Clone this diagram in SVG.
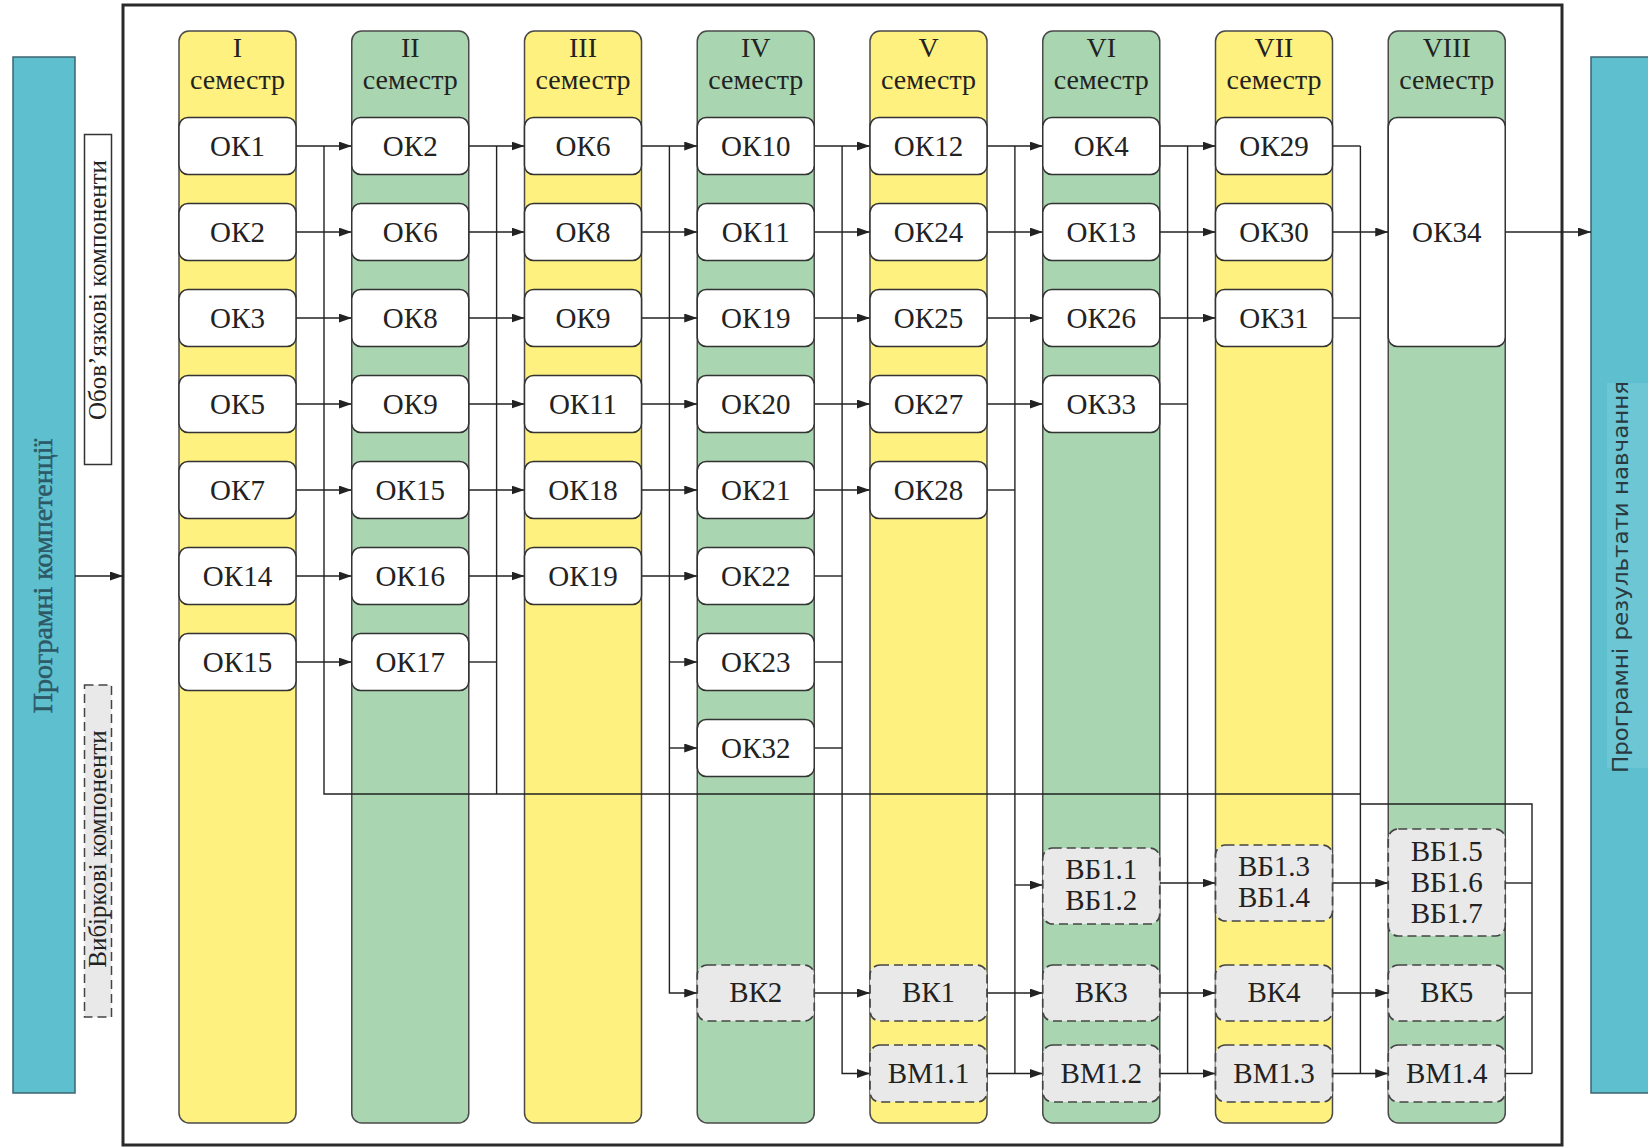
<svg xmlns="http://www.w3.org/2000/svg" width="1648" height="1147" viewBox="0 0 1648 1147">
<style>
.cy{fill:#fef17f;stroke:#4a4a4a;stroke-width:1.5}
.cg{fill:#a9d5b1;stroke:#4a4a4a;stroke-width:1.5}
.box{fill:#fff;stroke:#333;stroke-width:1.5}
.dbox{fill:#e9e9e9;stroke:#444;stroke-width:1.7;stroke-dasharray:9 5}
.t{font-family:"Liberation Serif","Times New Roman",serif;font-size:29px;fill:#222;text-anchor:middle}
.h{font-size:28px}
.c{fill:none;stroke:#222;stroke-width:1.4}
.a{marker-end:url(#arr)}
</style>
<defs>
<marker id="arr" markerUnits="userSpaceOnUse" markerWidth="14" markerHeight="10" refX="13" refY="4.5" orient="auto">
<path d="M0,0 L13,4.5 L0,9 z" fill="#222"/>
</marker>
</defs>
<rect width="1648" height="1147" fill="#fff"/>

<g id="left-bar">
<rect x="13" y="57" width="62" height="1036" fill="#5ec0cf" stroke="#3d6470" stroke-width="1.5"/>
<text transform="translate(52,576) rotate(-90)" text-anchor="middle" font-family="Liberation Serif, serif" font-size="28" fill="#2d5866" stroke="#2d5866" stroke-width="0.5">Програмні компетенції</text>
</g>
<g id="right-bar">
<rect x="1591" y="57" width="60" height="1036" fill="#5ec0cf" stroke="#3d6470" stroke-width="1.5"/>
<rect x="1607" y="383" width="41" height="385" fill="#6cc6d4"/>
<text transform="translate(1628,577) rotate(-90)" text-anchor="middle" font-family="DejaVu Sans, sans-serif" font-size="22" fill="#2a3a40" textLength="392" lengthAdjust="spacingAndGlyphs">Програмні результати навчання</text>
</g>
<g id="label-mandatory">
<rect x="84.5" y="134.5" width="27" height="330" fill="#fff" stroke="#333" stroke-width="1.5"/>
<text transform="translate(106,290) rotate(-90)" text-anchor="middle" font-family="Liberation Serif, serif" font-size="25" fill="#222">Обов’язкові компоненти</text>
</g>
<g id="label-elective">
<rect x="84.5" y="685" width="27" height="332" fill="#e9e9e9" stroke="#444" stroke-width="1.5" stroke-dasharray="9 5"/>
<text transform="translate(106,849) rotate(-90)" text-anchor="middle" font-family="Liberation Serif, serif" font-size="25" fill="#222">Вибіркові компоненти</text>
</g>

<g id="frame"><rect x="123" y="5" width="1439" height="1140" fill="none" stroke="#2a2a2a" stroke-width="3"/></g>

<g id="sem1"><rect class="cy" x="179" y="31" width="117" height="1092" rx="10"/><text class="t h" x="237.5" y="57">I</text><text class="t h" x="237.5" y="89">семестр</text></g>
<g id="sem2"><rect class="cg" x="351.75" y="31" width="117" height="1092" rx="10"/><text class="t h" x="410.25" y="57">II</text><text class="t h" x="410.25" y="89">семестр</text></g>
<g id="sem3"><rect class="cy" x="524.5" y="31" width="117" height="1092" rx="10"/><text class="t h" x="583" y="57">III</text><text class="t h" x="583" y="89">семестр</text></g>
<g id="sem4"><rect class="cg" x="697.25" y="31" width="117" height="1092" rx="10"/><text class="t h" x="755.75" y="57">IV</text><text class="t h" x="755.75" y="89">семестр</text></g>
<g id="sem5"><rect class="cy" x="870" y="31" width="117" height="1092" rx="10"/><text class="t h" x="928.5" y="57">V</text><text class="t h" x="928.5" y="89">семестр</text></g>
<g id="sem6"><rect class="cg" x="1042.75" y="31" width="117" height="1092" rx="10"/><text class="t h" x="1101.25" y="57">VI</text><text class="t h" x="1101.25" y="89">семестр</text></g>
<g id="sem7"><rect class="cy" x="1215.5" y="31" width="117" height="1092" rx="10"/><text class="t h" x="1274" y="57">VII</text><text class="t h" x="1274" y="89">семестр</text></g>
<g id="sem8"><rect class="cg" x="1388.25" y="31" width="117" height="1092" rx="10"/><text class="t h" x="1446.75" y="57">VIII</text><text class="t h" x="1446.75" y="89">семестр</text></g>

<g id="connectors">
<path class="c a" d="M75 576 H123"/>
<path class="c a" d="M296 146 H351.75"/><path class="c a" d="M296 232 H351.75"/><path class="c a" d="M296 318 H351.75"/><path class="c a" d="M296 404 H351.75"/><path class="c a" d="M296 490 H351.75"/><path class="c a" d="M296 576 H351.75"/><path class="c a" d="M296 662 H351.75"/>
<path class="c" d="M324 146 V794 H1360.4"/>
<path class="c a" d="M468.75 146 H524.5"/><path class="c a" d="M468.75 232 H524.5"/><path class="c a" d="M468.75 318 H524.5"/><path class="c a" d="M468.75 404 H524.5"/><path class="c a" d="M468.75 490 H524.5"/><path class="c a" d="M468.75 576 H524.5"/>
<path class="c" d="M468.75 662 H496.6"/><path class="c" d="M496.6 146 V794"/>
<path class="c a" d="M641.5 146 H697.25"/><path class="c a" d="M641.5 232 H697.25"/><path class="c a" d="M641.5 318 H697.25"/><path class="c a" d="M641.5 404 H697.25"/><path class="c a" d="M641.5 490 H697.25"/><path class="c a" d="M641.5 576 H697.25"/>
<path class="c a" d="M669.4 662 H697.25"/><path class="c a" d="M669.4 748 H697.25"/>
<path class="c a" d="M669.4 146 V993 H697.25"/>
<path class="c a" d="M814.25 146 H870"/><path class="c a" d="M814.25 232 H870"/><path class="c a" d="M814.25 318 H870"/><path class="c a" d="M814.25 404 H870"/><path class="c a" d="M814.25 490 H870"/>
<path class="c" d="M814.25 576 H842.1"/><path class="c" d="M814.25 662 H842.1"/><path class="c" d="M814.25 748 H842.1"/>
<path class="c a" d="M814.25 993 H870"/>
<path class="c a" d="M842.1 146 V1073.5 H870"/>
<path class="c a" d="M987 146 H1042.75"/><path class="c a" d="M987 232 H1042.75"/><path class="c a" d="M987 318 H1042.75"/><path class="c a" d="M987 404 H1042.75"/>
<path class="c" d="M987 490 H1014.9"/>
<path class="c a" d="M1014.9 885 H1042.75"/>
<path class="c a" d="M987 993 H1042.75"/><path class="c a" d="M987 1073.5 H1042.75"/>
<path class="c" d="M1014.9 146 V1073.5"/>
<path class="c a" d="M1159.75 146 H1215.5"/><path class="c a" d="M1159.75 232 H1215.5"/><path class="c a" d="M1159.75 318 H1215.5"/>
<path class="c" d="M1159.75 404 H1187.6"/>
<path class="c a" d="M1159.75 883 H1215.5"/><path class="c a" d="M1159.75 993 H1215.5"/><path class="c a" d="M1159.75 1073.5 H1215.5"/>
<path class="c" d="M1187.6 146 V1073.5"/>
<path class="c" d="M1332.5 146 H1360.4"/><path class="c a" d="M1332.5 232 H1388.25"/><path class="c" d="M1332.5 318 H1360.4"/>
<path class="c a" d="M1332.5 883 H1388.25"/><path class="c a" d="M1332.5 993 H1388.25"/><path class="c a" d="M1332.5 1073.5 H1388.25"/>
<path class="c" d="M1360.4 146 V1073.5"/>
<path class="c" d="M1360.4 804 H1532 V1073.5"/>
<path class="c" d="M1505.25 883 H1532"/><path class="c" d="M1505.25 993 H1532"/><path class="c" d="M1505.25 1073.5 H1532"/>
<path class="c a" d="M1505.25 232 H1591"/>
</g>

<g id="n1-ok1"><rect class="box" x="179" y="117.5" width="117" height="57" rx="9"/><text class="t" x="237.5" y="156">ОК1</text></g>
<g id="n1-ok2"><rect class="box" x="179" y="203.5" width="117" height="57" rx="9"/><text class="t" x="237.5" y="242">ОК2</text></g>
<g id="n1-ok3"><rect class="box" x="179" y="289.5" width="117" height="57" rx="9"/><text class="t" x="237.5" y="328">ОК3</text></g>
<g id="n1-ok5"><rect class="box" x="179" y="375.5" width="117" height="57" rx="9"/><text class="t" x="237.5" y="414">ОК5</text></g>
<g id="n1-ok7"><rect class="box" x="179" y="461.5" width="117" height="57" rx="9"/><text class="t" x="237.5" y="500">ОК7</text></g>
<g id="n1-ok14"><rect class="box" x="179" y="547.5" width="117" height="57" rx="9"/><text class="t" x="237.5" y="586">ОК14</text></g>
<g id="n1-ok15"><rect class="box" x="179" y="633.5" width="117" height="57" rx="9"/><text class="t" x="237.5" y="672">ОК15</text></g>

<g id="n2-ok2"><rect class="box" x="351.75" y="117.5" width="117" height="57" rx="9"/><text class="t" x="410.25" y="156">ОК2</text></g>
<g id="n2-ok6"><rect class="box" x="351.75" y="203.5" width="117" height="57" rx="9"/><text class="t" x="410.25" y="242">ОК6</text></g>
<g id="n2-ok8"><rect class="box" x="351.75" y="289.5" width="117" height="57" rx="9"/><text class="t" x="410.25" y="328">ОК8</text></g>
<g id="n2-ok9"><rect class="box" x="351.75" y="375.5" width="117" height="57" rx="9"/><text class="t" x="410.25" y="414">ОК9</text></g>
<g id="n2-ok15"><rect class="box" x="351.75" y="461.5" width="117" height="57" rx="9"/><text class="t" x="410.25" y="500">ОК15</text></g>
<g id="n2-ok16"><rect class="box" x="351.75" y="547.5" width="117" height="57" rx="9"/><text class="t" x="410.25" y="586">ОК16</text></g>
<g id="n2-ok17"><rect class="box" x="351.75" y="633.5" width="117" height="57" rx="9"/><text class="t" x="410.25" y="672">ОК17</text></g>

<g id="n3-ok6"><rect class="box" x="524.5" y="117.5" width="117" height="57" rx="9"/><text class="t" x="583" y="156">ОК6</text></g>
<g id="n3-ok8"><rect class="box" x="524.5" y="203.5" width="117" height="57" rx="9"/><text class="t" x="583" y="242">ОК8</text></g>
<g id="n3-ok9"><rect class="box" x="524.5" y="289.5" width="117" height="57" rx="9"/><text class="t" x="583" y="328">ОК9</text></g>
<g id="n3-ok11"><rect class="box" x="524.5" y="375.5" width="117" height="57" rx="9"/><text class="t" x="583" y="414">ОК11</text></g>
<g id="n3-ok18"><rect class="box" x="524.5" y="461.5" width="117" height="57" rx="9"/><text class="t" x="583" y="500">ОК18</text></g>
<g id="n3-ok19"><rect class="box" x="524.5" y="547.5" width="117" height="57" rx="9"/><text class="t" x="583" y="586">ОК19</text></g>

<g id="n4-ok10"><rect class="box" x="697.25" y="117.5" width="117" height="57" rx="9"/><text class="t" x="755.75" y="156">ОК10</text></g>
<g id="n4-ok11"><rect class="box" x="697.25" y="203.5" width="117" height="57" rx="9"/><text class="t" x="755.75" y="242">ОК11</text></g>
<g id="n4-ok19"><rect class="box" x="697.25" y="289.5" width="117" height="57" rx="9"/><text class="t" x="755.75" y="328">ОК19</text></g>
<g id="n4-ok20"><rect class="box" x="697.25" y="375.5" width="117" height="57" rx="9"/><text class="t" x="755.75" y="414">ОК20</text></g>
<g id="n4-ok21"><rect class="box" x="697.25" y="461.5" width="117" height="57" rx="9"/><text class="t" x="755.75" y="500">ОК21</text></g>
<g id="n4-ok22"><rect class="box" x="697.25" y="547.5" width="117" height="57" rx="9"/><text class="t" x="755.75" y="586">ОК22</text></g>
<g id="n4-ok23"><rect class="box" x="697.25" y="633.5" width="117" height="57" rx="9"/><text class="t" x="755.75" y="672">ОК23</text></g>
<g id="n4-ok32"><rect class="box" x="697.25" y="719.5" width="117" height="57" rx="9"/><text class="t" x="755.75" y="758">ОК32</text></g>
<g id="n4-vk2"><rect class="dbox" x="697.25" y="965" width="117" height="56" rx="10"/><text class="t" x="755.75" y="1002">ВК2</text></g>

<g id="n5-ok12"><rect class="box" x="870" y="117.5" width="117" height="57" rx="9"/><text class="t" x="928.5" y="156">ОК12</text></g>
<g id="n5-ok24"><rect class="box" x="870" y="203.5" width="117" height="57" rx="9"/><text class="t" x="928.5" y="242">ОК24</text></g>
<g id="n5-ok25"><rect class="box" x="870" y="289.5" width="117" height="57" rx="9"/><text class="t" x="928.5" y="328">ОК25</text></g>
<g id="n5-ok27"><rect class="box" x="870" y="375.5" width="117" height="57" rx="9"/><text class="t" x="928.5" y="414">ОК27</text></g>
<g id="n5-ok28"><rect class="box" x="870" y="461.5" width="117" height="57" rx="9"/><text class="t" x="928.5" y="500">ОК28</text></g>
<g id="n5-vk1"><rect class="dbox" x="870" y="965" width="117" height="56" rx="10"/><text class="t" x="928.5" y="1002">ВК1</text></g>
<g id="n5-vm11"><rect class="dbox" x="870" y="1045" width="117" height="57" rx="10"/><text class="t" x="928.5" y="1083">ВМ1.1</text></g>

<g id="n6-ok4"><rect class="box" x="1042.75" y="117.5" width="117" height="57" rx="9"/><text class="t" x="1101.25" y="156">ОК4</text></g>
<g id="n6-ok13"><rect class="box" x="1042.75" y="203.5" width="117" height="57" rx="9"/><text class="t" x="1101.25" y="242">ОК13</text></g>
<g id="n6-ok26"><rect class="box" x="1042.75" y="289.5" width="117" height="57" rx="9"/><text class="t" x="1101.25" y="328">ОК26</text></g>
<g id="n6-ok33"><rect class="box" x="1042.75" y="375.5" width="117" height="57" rx="9"/><text class="t" x="1101.25" y="414">ОК33</text></g>
<g id="n6-vb11"><rect class="dbox" x="1042.75" y="848" width="117" height="76" rx="10"/><text class="t" x="1101.25" y="879">ВБ1.1</text><text class="t" x="1101.25" y="910">ВБ1.2</text></g>
<g id="n6-vk3"><rect class="dbox" x="1042.75" y="965" width="117" height="56" rx="10"/><text class="t" x="1101.25" y="1002">ВК3</text></g>
<g id="n6-vm12"><rect class="dbox" x="1042.75" y="1045" width="117" height="57" rx="10"/><text class="t" x="1101.25" y="1083">ВМ1.2</text></g>

<g id="n7-ok29"><rect class="box" x="1215.5" y="117.5" width="117" height="57" rx="9"/><text class="t" x="1274" y="156">ОК29</text></g>
<g id="n7-ok30"><rect class="box" x="1215.5" y="203.5" width="117" height="57" rx="9"/><text class="t" x="1274" y="242">ОК30</text></g>
<g id="n7-ok31"><rect class="box" x="1215.5" y="289.5" width="117" height="57" rx="9"/><text class="t" x="1274" y="328">ОК31</text></g>
<g id="n7-vb13"><rect class="dbox" x="1215.5" y="845" width="117" height="76" rx="10"/><text class="t" x="1274" y="876">ВБ1.3</text><text class="t" x="1274" y="907">ВБ1.4</text></g>
<g id="n7-vk4"><rect class="dbox" x="1215.5" y="965" width="117" height="56" rx="10"/><text class="t" x="1274" y="1002">ВК4</text></g>
<g id="n7-vm13"><rect class="dbox" x="1215.5" y="1045" width="117" height="57" rx="10"/><text class="t" x="1274" y="1083">ВМ1.3</text></g>

<g id="n8-ok34"><rect class="box" x="1388.25" y="117.5" width="117" height="229" rx="9"/><text class="t" x="1446.75" y="242">ОК34</text></g>
<g id="n8-vb15"><rect class="dbox" x="1388.25" y="829" width="117" height="107" rx="10"/><text class="t" x="1446.75" y="861">ВБ1.5</text><text class="t" x="1446.75" y="892">ВБ1.6</text><text class="t" x="1446.75" y="923">ВБ1.7</text></g>
<g id="n8-vk5"><rect class="dbox" x="1388.25" y="965" width="117" height="56" rx="10"/><text class="t" x="1446.75" y="1002">ВК5</text></g>
<g id="n8-vm14"><rect class="dbox" x="1388.25" y="1045" width="117" height="57" rx="10"/><text class="t" x="1446.75" y="1083">ВМ1.4</text></g>
</svg>
